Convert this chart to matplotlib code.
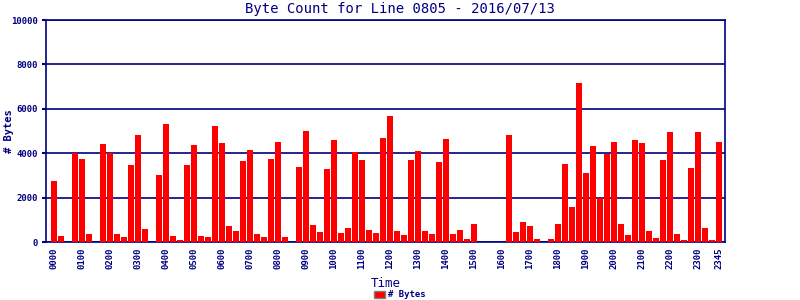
import matplotlib
matplotlib.use("Agg")
import matplotlib.pyplot as plt
from matplotlib.patches import Patch

# 15-minute byte counts, 0000 .. 2345
byte_counts = [
    2750, 270, 0, 4000, 3740, 360, 0, 4415,
    4010, 360, 225, 3470, 4820, 585, 0, 3020,
    5315, 270, 90, 3470, 4370, 270, 225, 5225,
    4460, 720, 495, 3650, 4145, 360, 225, 3740,
    4505, 225, 0, 3380, 5000, 765, 450, 3290,
    4595, 405, 630, 4055, 3695, 540, 405, 4685,
    5675, 495, 315, 3695, 4100, 495, 360, 3605,
    4640, 360, 540, 135, 810, 0, 0, 0,
    0, 4820, 450, 900, 720, 135, 0, 135,
    810, 3515, 1575, 7160, 3110, 4325, 1980, 3965,
    4505, 810, 315, 4595, 4460, 495, 180, 3695,
    4955, 360, 90, 3335, 4955, 630, 90, 4505,
]
tick_slots = list(range(0, 96, 4)) + [95]
tick_labels = ["%02d00" % h for h in range(24)] + ["2345"]
y_ticks = [0, 2000, 4000, 6000, 8000, 10000]

navy = "#000080"
mono = "DejaVu Sans Mono"

fig = plt.figure(figsize=(8, 3), dpi=100)
ax = fig.add_axes([0.0575, 0.1933, 0.8488, 0.74])

t = range(len(byte_counts))
ax.bar(t, byte_counts, width=0.86, color="#ff0000", zorder=3)

ax.set_xlim(-1.15, 95.85)
ax.set_ylim(0, 10000)
ax.set_yticks(y_ticks)
ax.set_yticklabels([str(v) for v in y_ticks], fontsize=6.5, family=mono,
                   fontweight="bold", color=navy)
ax.set_xticks(tick_slots)
ax.set_xticklabels(tick_labels, rotation=90, fontsize=6.5, family=mono,
                   fontweight="bold", color=navy)
ax.tick_params(axis="x", length=0, pad=4)
ax.tick_params(axis="y", length=3, width=1.5, color=navy, pad=3)
ax.yaxis.grid(True, color=navy, linewidth=1.2, zorder=1)

for side in ["left", "bottom", "right", "top"]:
    ax.spines[side].set_color(navy)
    ax.spines[side].set_linewidth(1.2)

ax.set_xlabel("Time", family=mono, fontsize=9, color=navy, labelpad=6)
fig.text(0.011, 0.563, "# Bytes", rotation=90, ha="center", va="center",
         family=mono, fontsize=7.5, fontweight="bold", color=navy)

fig.text(0.5, 0.97, "Byte Count for Line 0805 - 2016/07/13", ha="center",
         va="center", family=mono, fontsize=10, color=navy)

handle = Patch(facecolor="#ff0000", edgecolor="#808080", linewidth=1)
fig.legend([handle], ["# Bytes"], loc="center", bbox_to_anchor=(0.5, 0.017),
           frameon=False, handlelength=1.2, handleheight=0.8, handletextpad=0.4,
           prop={"family": mono, "size": 6.5, "weight": "bold"},
           labelcolor=navy)

fig.savefig("out.png", dpi=100)
